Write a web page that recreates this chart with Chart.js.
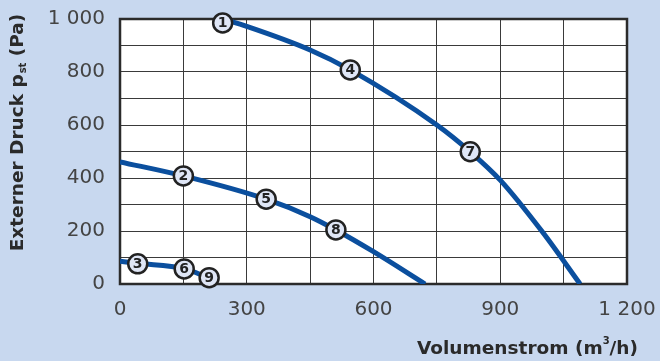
<!DOCTYPE html>
<html>
<head>
<meta charset="utf-8">
<script src="https://cdn.jsdelivr.net/npm/chart.js@4/dist/chart.umd.min.js"></script>
<style>
  html, body { margin: 0; padding: 0; background: #c8d8ef; }
  canvas { display: block; }
</style>
</head>
<body>
<canvas id="c" width="660" height="361"></canvas>
<script>
// ---- Data ----
const curve1X = [243, 300, 450, 545, 750, 829, 900, 1000, 1089];
const curve1Y = [1000, 972, 883, 808, 600, 499, 392, 196, 0];
const curve2X = [0, 150, 346, 450, 511, 600, 722];
const curve2Y = [461, 408, 320, 254, 204, 122, 0];
const curve3X = [0, 42, 152, 211];
const curve3Y = [86, 78, 58, 22];

const markerLabels = ['1', '2', '3', '4', '5', '6', '7', '8', '9'];
const markerX = [243, 150, 42, 545, 346, 152, 829, 511, 211];
const markerY = [985, 408, 76, 808, 320, 57, 499, 204, 24];

const xGridValues = [0, 150, 300, 450, 600, 750, 900, 1050, 1200];
const xTickValues = [0, 300, 600, 900, 1200];
const yGridValues = [0, 100, 200, 300, 400, 500, 600, 700, 800, 900, 1000];
const yTickValues = [0, 200, 400, 600, 800, 1000];

const xTitle = ['Volumenstrom (m', '3', '/h)'];
const yTitle = ['Externer Druck p', 'st', ' (Pa)'];

// ---- Helpers ----
const pts = (xs, ys) => xs.map((x, i) => ({ x: x, y: ys[i] }));
const fmt = v => String(v).replace(/\B(?=(\d{3})+(?!\d))/g, ' ');

const LINE = '#0b4f9e';
const TEXT = '#444444';
const GRID = '#3a3a3a';

const curveStyle = {
  showLine: true, pointRadius: 0, borderColor: LINE, borderWidth: 5,
  cubicInterpolationMode: 'monotone', fill: false
};

const plotPlugin = {
  id: 'plotDecor',
  beforeDraw(chart) {
    const { ctx, chartArea: a } = chart;
    ctx.save();
    ctx.fillStyle = '#c8d8ef';
    ctx.fillRect(0, 0, chart.width, chart.height);
    ctx.fillStyle = '#ffffff';
    ctx.fillRect(a.left, a.top, a.right - a.left, a.bottom - a.top);
    ctx.restore();
  },
  beforeDatasetsDraw(chart) {
    const { ctx, chartArea: a } = chart;
    ctx.save();
    ctx.strokeStyle = '#2b2b2b';
    ctx.lineWidth = 2.5;
    ctx.strokeRect(a.left, a.top, a.right - a.left, a.bottom - a.top);
    ctx.restore();
  },
  afterDatasetsDraw(chart) {
    const { ctx } = chart;
    const meta = chart.getDatasetMeta(0);
    ctx.save();
    ctx.font = 'bold 14px "DejaVu Sans"';
    ctx.fillStyle = '#222';
    ctx.textAlign = 'center';
    ctx.textBaseline = 'middle';
    meta.data.forEach((el, i) => {
      ctx.fillText(markerLabels[i], el.x, el.y + 0.5);
    });
    ctx.restore();
  },
  afterDraw(chart) {
    const { ctx } = chart;
    ctx.save();
    ctx.fillStyle = '#2a2a2a';
    ctx.textBaseline = 'alphabetic';
    const big = 'bold 18.5px "DejaVu Sans"';
    const small = 'bold 10px "DejaVu Sans"';
    // X title
    ctx.font = big; const w1 = ctx.measureText(xTitle[0]).width;
    ctx.font = small; const w2 = ctx.measureText(xTitle[1]).width;
    ctx.font = big; const w3 = ctx.measureText(xTitle[2]).width;
    let x = 638 - (w1 + w2 + w3);
    const yb = 354;
    ctx.font = big; ctx.fillText(xTitle[0], x, yb); x += w1;
    ctx.font = small; ctx.fillText(xTitle[1], x, yb - 10); x += w2;
    ctx.font = big; ctx.fillText(xTitle[2], x, yb);
    // Y title (rotated)
    ctx.translate(23, 133);
    ctx.rotate(-Math.PI / 2);
    ctx.font = big; const v1 = ctx.measureText(yTitle[0]).width;
    ctx.font = small; const v2 = ctx.measureText(yTitle[1]).width;
    ctx.font = big; const v3 = ctx.measureText(yTitle[2]).width;
    let t = -(v1 + v2 + v3) / 2;
    ctx.font = big; ctx.fillText(yTitle[0], t, 0); t += v1;
    ctx.font = small; ctx.fillText(yTitle[1], t + 1, 3); t += v2 + 1;
    ctx.font = big; ctx.fillText(yTitle[2], t, 0);
    ctx.restore();
  }
};

const tickFont = { family: '"DejaVu Sans"', size: 20, weight: 'normal' };

new Chart(document.getElementById('c'), {
  type: 'scatter',
  data: {
    datasets: [
      {
        data: pts(markerX, markerY), showLine: false, clip: false,
        pointRadius: 9.5, pointHoverRadius: 9.5, pointBorderWidth: 2.5,
        pointBackgroundColor: '#dfe6f6', pointBorderColor: '#222222'
      },
      Object.assign({ data: pts(curve1X, curve1Y) }, curveStyle),
      Object.assign({ data: pts(curve2X, curve2Y) }, curveStyle),
      Object.assign({ data: pts(curve3X, curve3Y) }, curveStyle)
    ]
  },
  options: {
    responsive: false,
    animation: false,
    events: [],
    layout: { padding: { top: 19, right: 33, left: 0, bottom: 0 } },
    plugins: { legend: { display: false }, tooltip: { enabled: false } },
    scales: {
      x: {
        type: 'linear', min: 0, max: 1200,
        afterBuildTicks: s => { s.ticks = xGridValues.map(v => ({ value: v })); },
        afterFit: s => { s.height = 77; s.paddingLeft = 0; s.paddingRight = 0; },
        ticks: {
          autoSkip: false, maxRotation: 0, padding: 14, color: TEXT, font: tickFont,
          callback: v => xTickValues.includes(v) ? fmt(v) : ''
        },
        grid: { color: GRID, lineWidth: 1, drawTicks: false },
        border: { display: false }
      },
      y: {
        type: 'linear', min: 0, max: 1000,
        afterBuildTicks: s => { s.ticks = yGridValues.map(v => ({ value: v })); },
        afterFit: s => { s.width = 120; s.paddingTop = 0; s.paddingBottom = 0; },
        ticks: {
          autoSkip: false, padding: 15, color: TEXT, font: tickFont,
          callback: v => yTickValues.includes(v) ? fmt(v) : ''
        },
        grid: { color: GRID, lineWidth: 1, drawTicks: false },
        border: { display: false }
      }
    }
  },
  plugins: [plotPlugin]
});
</script>
</body>
</html>
